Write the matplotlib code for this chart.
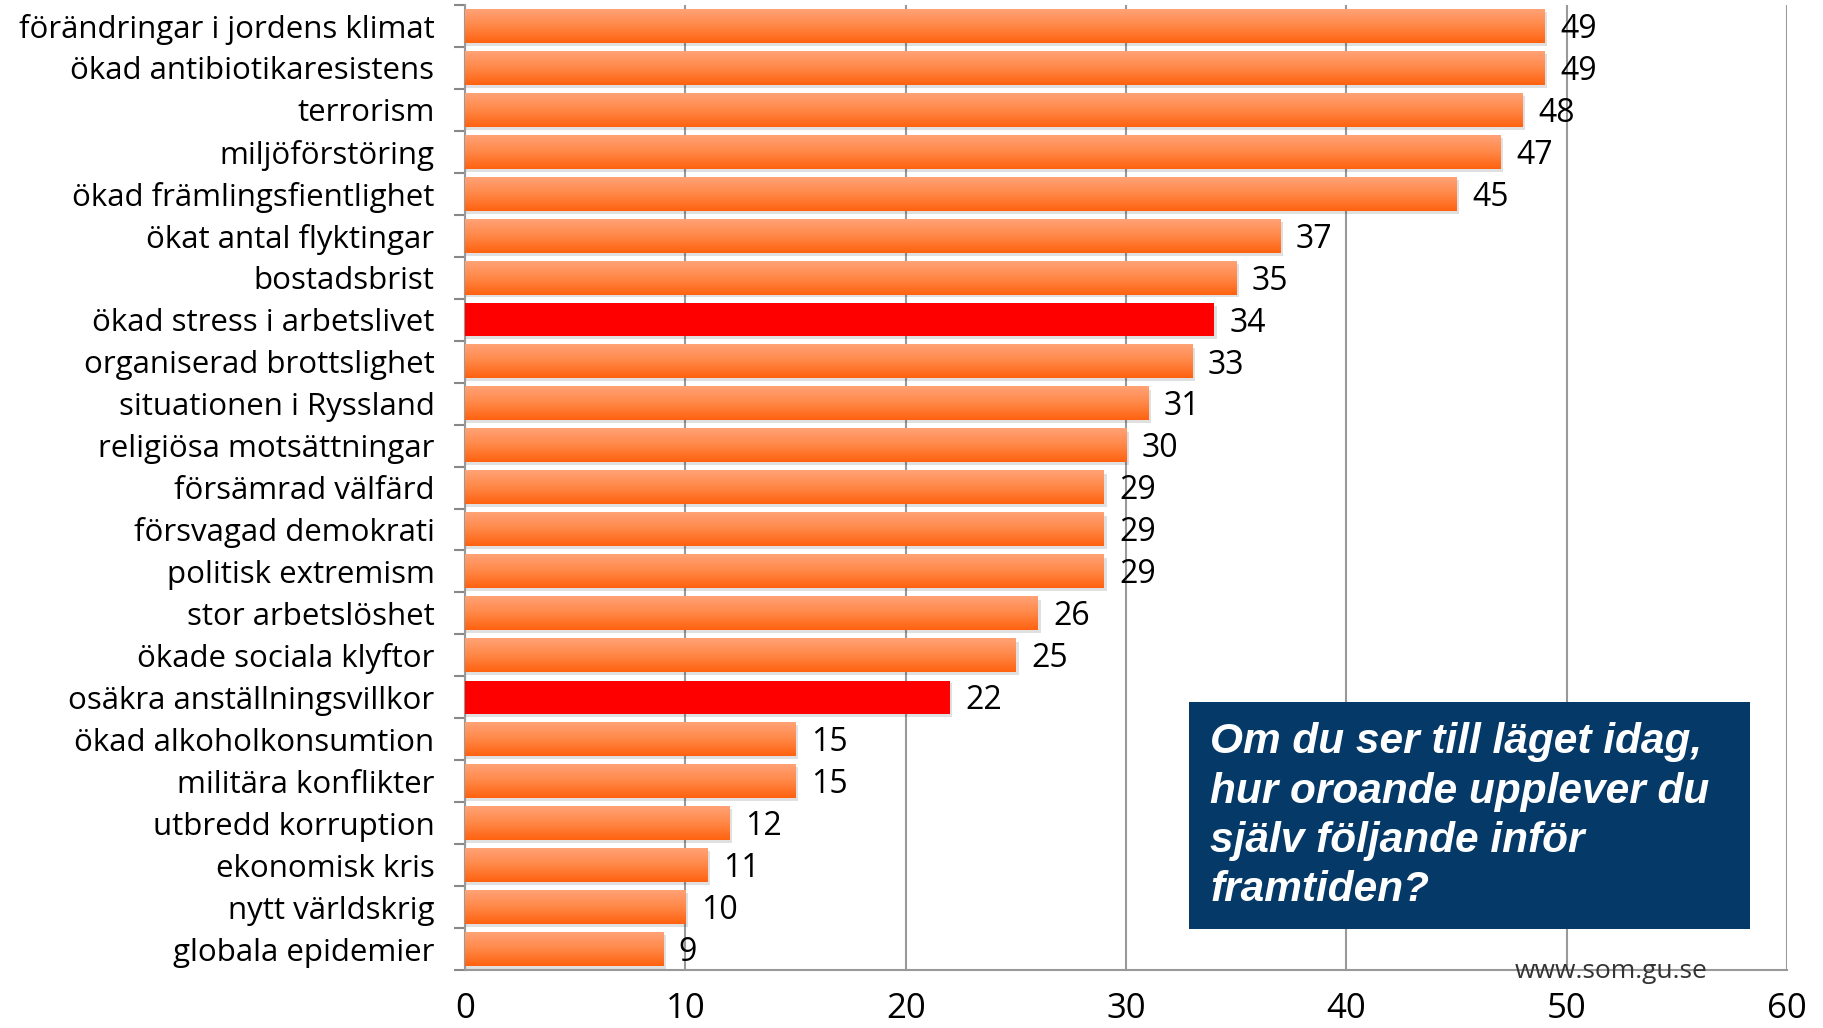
import numpy as np
import matplotlib.pyplot as plt
from matplotlib.colors import LinearSegmentedColormap
from matplotlib.patches import Rectangle

categories = [
    "förändringar i jordens klimat", "ökad antibiotikaresistens", "terrorism",
    "miljöförstöring", "ökad främlingsfientlighet", "ökat antal flyktingar",
    "bostadsbrist", "ökad stress i arbetslivet", "organiserad brottslighet",
    "situationen i Ryssland", "religiösa motsättningar", "försämrad välfärd",
    "försvagad demokrati", "politisk extremism", "stor arbetslöshet",
    "ökade sociala klyftor", "osäkra anställningsvillkor", "ökad alkoholkonsumtion",
    "militära konflikter", "utbredd korruption", "ekonomisk kris",
    "nytt världskrig", "globala epidemier",
]
values = [49, 49, 48, 47, 45, 37, 35, 34, 33, 31, 30, 29, 29, 29, 26, 25, 22,
          15, 15, 12, 11, 10, 9]
highlight = ["ökad stress i arbetslivet", "osäkra anställningsvillkor"]
question = "Om du ser till läget idag,\nhur oroande upplever du\nsjälv följande inför\nframtiden?"

plt.rcParams['font.family'] = ['Open Sans', 'DejaVu Sans']

fig = plt.figure(figsize=(18.23, 10.28), dpi=100)
ax = fig.add_axes([0.2551, 0.0564, 0.7252, 0.9387])

n = len(categories)
ypos = np.arange(n)[::-1]
h = 0.8
orange = LinearSegmentedColormap.from_list("og", ["#ff6210", "#ff8746", "#ffa276"])
grad = np.linspace(0, 1, 64).reshape(-1, 1)

for cat, v, y in zip(categories, values, ypos):
    # soft shadow under each bar
    ax.barh(y - 0.07, v + 0.12, height=h, color="#000000", alpha=0.12, zorder=2, linewidth=0)
    if cat in highlight:
        ax.barh(y, v, height=h, color="#ff0000", zorder=3, linewidth=0)
    else:
        ax.imshow(grad, extent=[0, v, y - h / 2, y + h / 2], origin="lower",
                  aspect="auto", cmap=orange, zorder=3)
    ax.text(v + 0.7, y - 0.08, str(v), va="center", ha="left", fontsize=23, zorder=4)

ax.set_xlim(0, 60)
ax.set_ylim(-0.5, n - 0.5)
ax.set_yticks(ypos)
ax.set_yticklabels(categories, fontsize=22.5)
ax.set_yticks(np.arange(n + 1) - 0.5, minor=True)
ax.tick_params(axis="y", which="major", length=0, pad=22)
ax.tick_params(axis="y", which="minor", length=8, color="#888888", width=1.5)
ax.set_xticks(range(0, 61, 10))
ax.tick_params(axis="x", length=0, labelsize=25, pad=16)
ax.xaxis.grid(True, color="#999999", linewidth=1.5, zorder=0)
ax.set_axisbelow(True)
for s in ["top", "right"]:
    ax.spines[s].set_visible(False)
for s in ["left", "bottom"]:
    ax.spines[s].set_color("#999999")
    ax.spines[s].set_linewidth(1.5)

fig.patches.append(Rectangle((0.6523, 0.0963), 0.3077, 0.2208, transform=fig.transFigure,
                             facecolor="#043968", edgecolor="none", zorder=5))
fig.text(0.664, 0.206, question, ha="left", va="center", color="white", fontsize=30.5,
         fontweight="bold", fontstyle="italic", family="Liberation Sans",
         linespacing=1.3, zorder=6)
fig.text(0.884, 0.0545, "www.som.gu.se", ha="center", va="center",
         fontsize=19, color="#333333")

fig.savefig("out.png", dpi=100)
